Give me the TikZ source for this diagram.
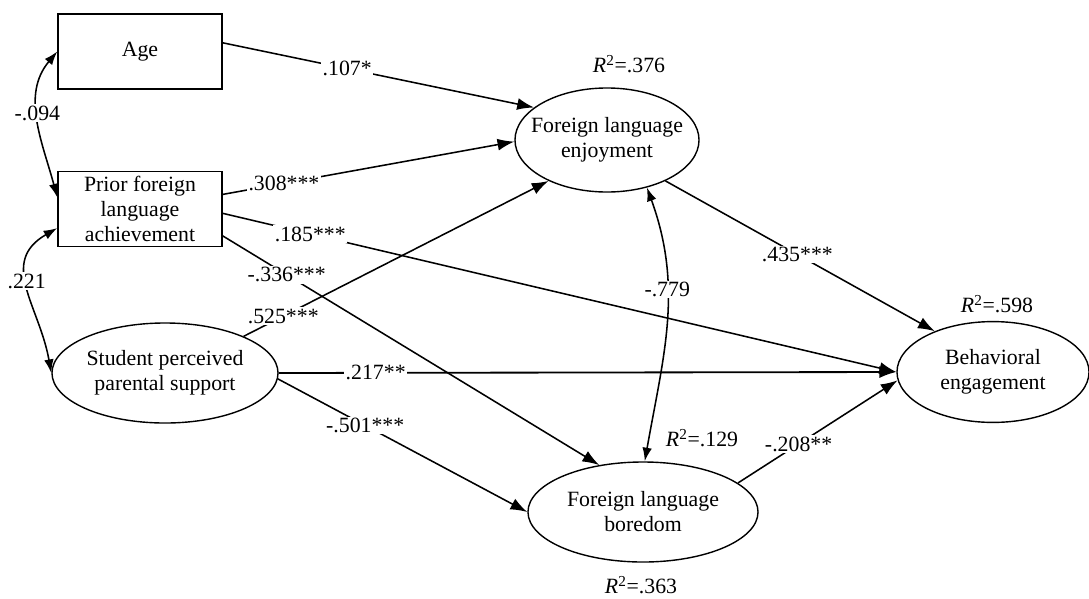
\documentclass[tikz,border=0pt]{standalone}
\usepackage{fontspec}
\setmainfont{Liberation Serif}
\usetikzlibrary{shapes.geometric,arrows.meta}
\newcommand\zw[1]{\makebox[0pt]{#1}}
\newcommand\fsz{\fontsize{15.5}{17.8}\selectfont}
\begin{document}
\begin{tikzpicture}[x=0.025cm,y=-0.025cm,
  box/.style={draw, line width=1pt, minimum width=4.1cm, minimum height=1.875cm, align=center, inner sep=0pt, font=\fsz},
  ell/.style={draw, ellipse, line width=1pt, align=center, inner sep=0pt, font=\fsz},
  pth/.style={line width=1.1pt, -{Latex[length=0.42cm,width=0.3cm]}},
  cov/.style={line width=1.1pt, {Latex[length=0.34cm,width=0.24cm]}-{Latex[length=0.34cm,width=0.24cm]}},
  lbl/.style={fill=white, inner sep=1pt, font=\fsz},
  rsq/.style={inner sep=1pt, font=\fsz}]
\useasboundingbox (0,0) rectangle (1089,598);
% nodes
\node[box] (age) at (140,51.5) {Age};
\node[box] (prior) at (140,209) {Prior foreign\\language\\achievement};
\node[ell, minimum width=5.65cm, minimum height=2.5cm] (stu) at (165,373) {\zw{Student perceived}\\\zw{parental support}};
\node[ell, minimum width=4.6cm, minimum height=2.6cm] (enj) at (607,140) {\zw{Foreign language}\\\zw{enjoyment}};
\node[ell, minimum width=5.75cm, minimum height=2.5cm] (bor) at (643,512) {\zw{Foreign language}\\\zw{boredom}};
\node[ell, minimum width=4.8cm, minimum height=2.52cm] (beh) at (993,372) {\zw{Behavioral}\\\zw{engagement}};
% R squared
\node[rsq] (r1) at (629,64) {\textit{R}\textsuperscript{2}=.376};
\node[rsq] (r2) at (997,304) {\textit{R}\textsuperscript{2}=.598};
\node[rsq] (r3) at (702,438) {\textit{R}\textsuperscript{2}=.129};
\node[rsq] (r4) at (641,585) {\textit{R}\textsuperscript{2}=.363};
% paths
\draw[pth] (age.6) -- node[lbl,pos=0.40] {.107*} (enj.156);
\draw[pth] (prior.10) -- node[lbl,pos=0.21] {.308***} (enj.181);
\draw[pth] (prior.-3) -- node[lbl,pos=0.13] {.185***} (beh.west);
\draw[pth] (prior.-18) -- node[lbl,pos=0.17] {-.336***} (bor.133);
\draw[pth] (stu.25) -- node[lbl,pos=0.13] {.525***} (enj.215);
\draw[pth, line width=1.3pt] (stu.east) -- node[lbl,pos=0.157] {.217**} (beh.west);
\draw[pth] (stu.-3) -- node[lbl,pos=0.35] {-.501***} (bor.west);
\draw[pth] (enj.-35) -- node[lbl,pos=0.49] {.435***} (beh.145);
\draw[pth] (bor.17) -- node[lbl,pos=0.38] {-.208**} (beh.185);
% covariances
\draw[cov] (age.west) to[out=230,in=105] node[lbl,pos=0.45] {-.094} (prior.172);
\draw[cov] (prior.193) to[out=210,in=100,looseness=1.2] node[lbl,pos=0.45] {.221} (stu.west);
\draw[cov] (enj.-50) to[out=-70,in=80] node[lbl,pos=0.37] {-.779} (bor.88);
\end{tikzpicture}
\end{document}
